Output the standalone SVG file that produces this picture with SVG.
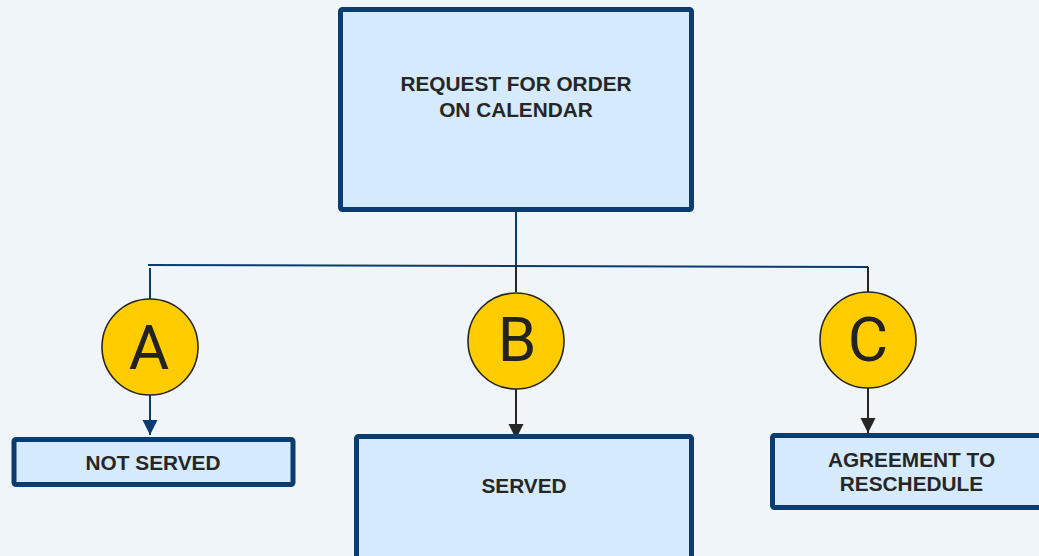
<svg xmlns="http://www.w3.org/2000/svg" width="1039" height="556" viewBox="0 0 1039 556">
<style>
.box{fill:#d5ebfd;stroke:#0b3c70;stroke-width:5}
.lbl{font-family:"Liberation Sans",Arial,sans-serif;font-weight:bold;font-size:20.8px;fill:#262626;text-anchor:middle}
.circ{fill:#ffcc00;stroke:#262626;stroke-width:1.6}
.let{font-family:Roboto,"Liberation Sans",sans-serif;font-size:62px;fill:#222;text-anchor:middle}
.blue{stroke:#0b3c70;stroke-width:2;fill:none}
.dark{stroke:#262626;stroke-width:2;fill:none}
</style>
<defs>
<marker id="ab" markerWidth="16" markerHeight="16" refX="15" refY="8" orient="auto" markerUnits="userSpaceOnUse" viewBox="0 0 16 16"><path d="M0,0.5 L15,8 L0,15.5 Z" fill="#0b3c70"/></marker>
<marker id="ad" markerWidth="16" markerHeight="16" refX="15" refY="8" orient="auto" markerUnits="userSpaceOnUse" viewBox="0 0 16 16"><path d="M0,0.5 L15,8 L0,15.5 Z" fill="#262626"/></marker>
</defs>
<rect width="1039" height="556" fill="#eff5f9"/>
<g id="connectors">
<path class="blue" d="M516,212 V266"/>
<path class="blue" d="M148,265 L868,267"/>
<path class="blue" d="M150,268 V299"/>
<path class="dark" d="M516,266 V292"/>
<path class="dark" d="M868,267 V292"/>
<path class="blue" d="M150,395 V435" marker-end="url(#ab)"/>
<path class="dark" d="M516,389 V439" marker-end="url(#ad)"/>
<path class="dark" d="M868,388 V433" marker-end="url(#ad)"/>
</g>
<g id="node-request">
<rect class="box" x="340.5" y="9.5" width="351" height="200" rx="2"/>
<text class="lbl" x="516" y="90.7">REQUEST FOR ORDER</text>
<text class="lbl" x="516" y="116.7">ON CALENDAR</text>
</g>
<g id="node-a">
<circle class="circ" cx="150" cy="347" r="48"/>
<text class="let" x="149" y="368.5">A</text>
</g>
<g id="node-b">
<circle class="circ" cx="516" cy="341" r="48"/>
<text class="let" x="517" y="361">B</text>
</g>
<g id="node-c">
<circle class="circ" cx="868" cy="340" r="48"/>
<text class="let" x="868" y="361">C</text>
</g>
<g id="node-not-served">
<rect class="box" x="14" y="439.5" width="279" height="45" rx="2"/>
<text class="lbl" x="153" y="470">NOT SERVED</text>
</g>
<g id="node-served">
<rect class="box" x="356.5" y="436.5" width="335" height="140" rx="2"/>
<text class="lbl" x="524" y="492.7">SERVED</text>
</g>
<g id="node-reschedule">
<rect class="box" x="772.5" y="435.5" width="280" height="72" rx="2"/>
<text class="lbl" x="911.5" y="466.7">AGREEMENT TO</text>
<text class="lbl" x="911.5" y="490.7">RESCHEDULE</text>
</g>
</svg>
